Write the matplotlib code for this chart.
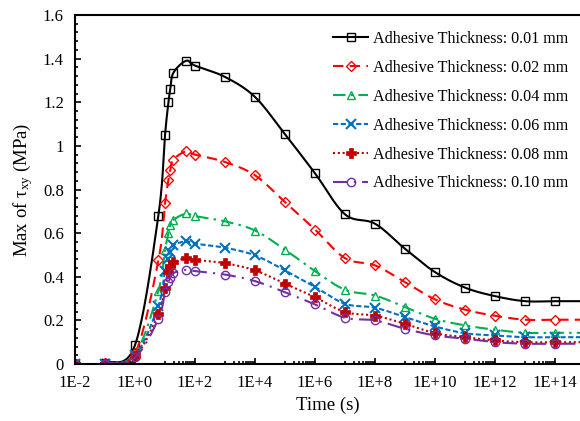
import numpy as np
import matplotlib
matplotlib.use('Agg')
import matplotlib.pyplot as plt
from matplotlib.lines import Line2D
from matplotlib.ticker import FixedLocator, FuncFormatter, MultipleLocator

plt.rcParams['font.family'] = ['Liberation Serif', 'DejaVu Serif']
plt.rcParams['mathtext.fontset'] = 'custom'
plt.rcParams['mathtext.rm'] = 'Liberation Serif'
plt.rcParams['mathtext.it'] = 'Liberation Serif:italic'

# time steps (s)
time = [1e-2, 1e-1, 1, 6, 10, 13, 15, 19, 50, 100,
        1e3, 1e4, 1e5, 1e6, 1e7, 1e8, 1e9, 1e10, 1e11, 1e12, 1e13, 1e14, 1e15]

# max shear stress (MPa) for each adhesive thickness
t001 = [0, 0.005, 0.087, 0.68, 1.05, 1.20, 1.26, 1.335, 1.39, 1.368,
        1.316, 1.224, 1.053, 0.874, 0.686, 0.643, 0.528, 0.421, 0.350, 0.311, 0.288, 0.288, 0.288]
t002 = [0, 0.003, 0.05, 0.475, 0.737, 0.845, 0.888, 0.937, 0.975, 0.960,
        0.926, 0.865, 0.742, 0.616, 0.485, 0.452, 0.375, 0.296, 0.249, 0.221, 0.203, 0.203, 0.203]
t004 = [0, 0.002, 0.045, 0.335, 0.524, 0.60, 0.635, 0.661, 0.690, 0.678,
        0.654, 0.612, 0.524, 0.426, 0.340, 0.314, 0.261, 0.207, 0.177, 0.157, 0.143, 0.143, 0.143]
t006 = [0, 0.002, 0.04, 0.268, 0.426, 0.483, 0.515, 0.544, 0.563, 0.552,
        0.533, 0.498, 0.429, 0.353, 0.276, 0.258, 0.215, 0.172, 0.141, 0.131, 0.123, 0.123, 0.123]
t008 = [0, 0.002, 0.035, 0.23, 0.35, 0.42, 0.45, 0.467, 0.485, 0.478,
        0.462, 0.429, 0.368, 0.306, 0.238, 0.222, 0.184, 0.141, 0.123, 0.108, 0.100, 0.100, 0.100]
t010 = [0, 0.002, 0.03, 0.207, 0.33, 0.375, 0.395, 0.417, 0.432, 0.426,
        0.410, 0.380, 0.329, 0.273, 0.212, 0.200, 0.161, 0.131, 0.116, 0.100, 0.093, 0.093, 0.093]

labels = ['Adhesive Thickness: 0.01 mm', 'Adhesive Thickness: 0.02 mm',
          'Adhesive Thickness: 0.04 mm', 'Adhesive Thickness: 0.06 mm',
          'Adhesive Thickness: 0.08 mm', 'Adhesive Thickness: 0.10 mm']
series = [t001, t002, t004, t006, t008, t010]
colors = ['black', '#FF0000', '#00B050', '#0070C0', '#C00000', '#7030A0']
markers = ['s', 'D', '^', 'x', 'P', 'o']
dashes = [None, (5, 3), (6, 2.5, 1.2, 2.5), (2.5, 1.2), (1, 1.3), (7, 3, 1, 3)]


def smooth(x, y, n=20):
    # Catmull-Rom through the points, done in screen-like units (log x)
    u = np.log10(np.asarray(x, float)) * 30.0
    v = np.asarray(y, float) * 218.0
    pu = np.concatenate([[u[0]], u, [u[-1]]])
    pv = np.concatenate([[v[0]], v, [v[-1]]])
    su, sv = [], []
    t = np.linspace(0, 1, n, endpoint=False)
    for i in range(1, len(pu) - 2):
        p0, p1, p2, p3 = (np.array([pu[j], pv[j]]) for j in range(i - 1, i + 3))
        c1 = p1 + (p2 - p0) / 6.0
        c2 = p2 - (p3 - p1) / 6.0
        b = ((1 - t) ** 3)[:, None] * p1 + (3 * (1 - t) ** 2 * t)[:, None] * c1 \
            + (3 * (1 - t) * t ** 2)[:, None] * c2 + (t ** 3)[:, None] * p2
        su.append(b[:, 0])
        sv.append(b[:, 1])
    su.append([u[-1]])
    sv.append([v[-1]])
    return 10 ** (np.concatenate(su) / 30.0), np.concatenate(sv) / 218.0


fig = plt.figure(figsize=(5.8, 4.21), dpi=100)
ax = fig.add_axes([75 / 580, 57 / 421, 505 / 580, 349 / 421])
ax.set_xscale('log')

handles = []
for y, c, m, d, lab in zip(series, colors, markers, dashes, labels):
    sx, sy = smooth(time, y)
    line, = ax.plot(sx, sy, color=c, lw=1.5)
    if d is not None:
        line.set_dashes(d)
    mkw = dict(marker=m, ms=6, mec=c, mew=1.0, mfc='none')
    if m == 'D':
        mkw['ms'] = 5
    if m in ('x', 'P'):
        mkw.update(mfc=c, mew=1.5 if m == 'x' else 0.5, ms=6.5)
    ax.plot(time, y, ls='none', **mkw)
    h = Line2D([], [], color=c, lw=1.5, **mkw)
    if d is not None:
        h.set_dashes(d)
    handles.append(h)

ax.set_xlim(1e-2, 10 ** 14.83)
ax.set_ylim(0, 1.6)

majors = [10.0 ** k for k in range(-2, 17, 2)]
minors = [10.0 ** k * f for k in range(-2, 17, 2) for f in range(10, 100, 10)]
ax.xaxis.set_major_locator(FixedLocator(majors))
ax.xaxis.set_minor_locator(FixedLocator(minors))
ax.xaxis.set_major_formatter(FuncFormatter(lambda v, p: '1E%+d' % int(round(np.log10(v)))))
ax.xaxis.set_minor_formatter(FuncFormatter(lambda v, p: ''))
ax.yaxis.set_major_locator(MultipleLocator(0.2))
ax.yaxis.set_minor_locator(MultipleLocator(0.04))
ax.yaxis.set_major_formatter(FuncFormatter(lambda v, p: '%g' % round(v, 2)))

ax.tick_params(which='both', direction='in', labelsize=12, width=1.2)
ax.tick_params(which='major', length=4)
ax.tick_params(which='minor', length=2.5)
ax.tick_params(axis='x', pad=8)
ax.tick_params(axis='y', pad=8)
ax.spines['right'].set_visible(False)
for s in ('left', 'bottom', 'top'):
    ax.spines[s].set_linewidth(1.5)

ax.set_xlabel('Time (s)', fontsize=13.5, labelpad=4)
ax.set_ylabel(r'Max of $\mathrm{\tau_{xy}}$ (MPa)', fontsize=13.5, labelpad=6)

fig.legend(handles=handles, labels=labels, loc='upper left',
           bbox_to_anchor=(333 / 580, 1 - 31 / 421), bbox_transform=fig.transFigure,
           frameon=False, fontsize=11.6, borderpad=0, borderaxespad=0,
           handlelength=2.2, handletextpad=0.3, labelspacing=0.8)

fig.savefig('out.png', dpi=100)
